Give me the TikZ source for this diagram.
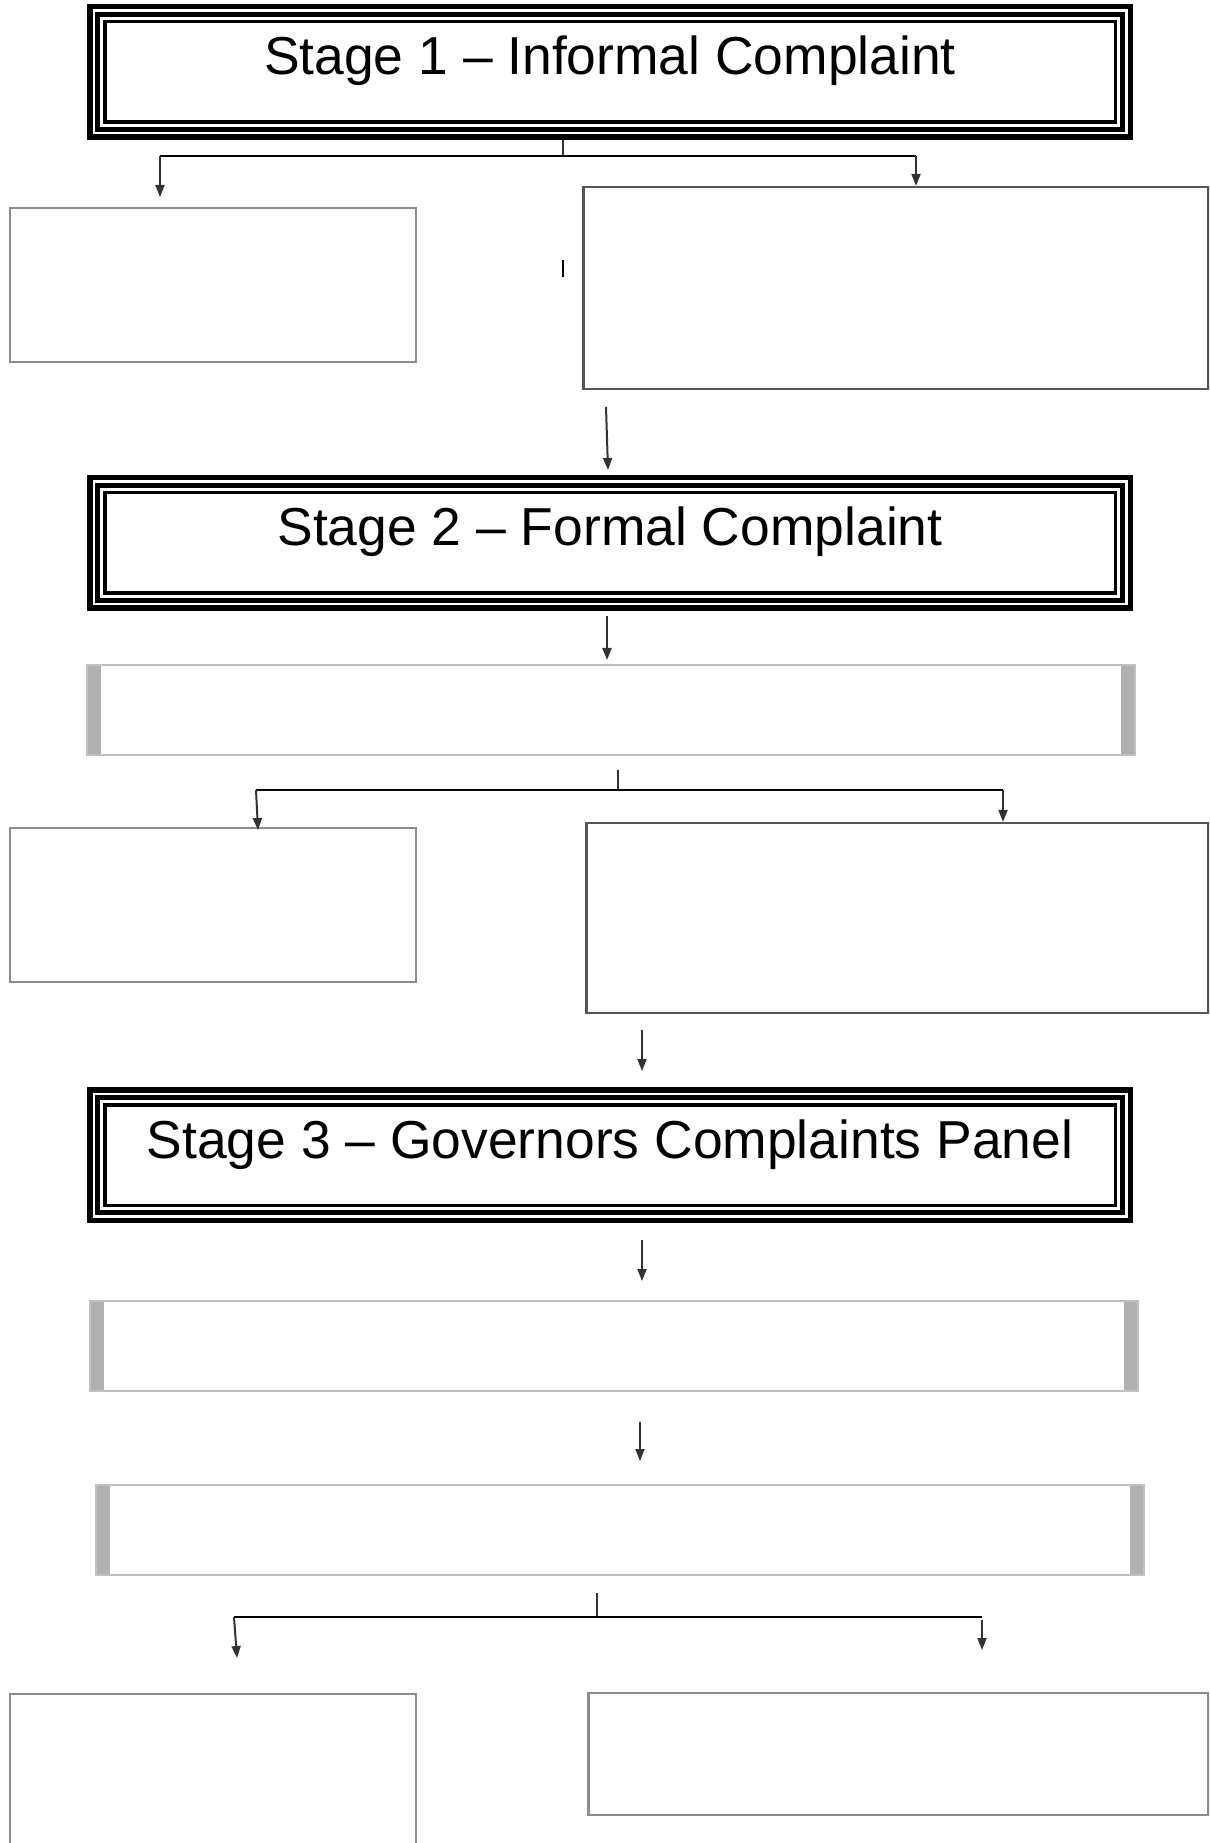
\documentclass[tikz,border=0pt]{standalone}
\usepackage{fontspec}
\setmainfont{Liberation Sans}
\usetikzlibrary{arrows.meta}
\definecolor{frm}{RGB}{140, 140, 140}
\definecolor{drk}{RGB}{85, 85, 85}
\definecolor{shd}{RGB}{176, 176, 176}
\definecolor{rim}{RGB}{192, 192, 192}
\definecolor{lnk}{RGB}{50, 50, 50}
\tikzset{
    stagebox/.style={draw=black, line width=0.055cm, inner sep=0pt,
        minimum width=10.405cm, minimum height=1.305cm,
        font=\fontsize{15.2}{18}\selectfont, text height=0.39cm, text depth=0.33cm,
        path picture={
            \draw[line width=0.05cm] ([shift={(0.08,-0.08)}]path picture bounding box.north west)
                rectangle ([shift={(-0.08,0.08)}]path picture bounding box.south east);
            \draw[line width=0.035cm] ([shift={(0.15,-0.15)}]path picture bounding box.north west)
                rectangle ([shift={(-0.15,0.15)}]path picture bounding box.south east);
        }},
    greybox/.style={draw=rim, line width=0.02cm, inner sep=0pt,
        minimum width=10.48cm, minimum height=0.90cm,
        path picture={
            \fill[shd] (path picture bounding box.north west)
                rectangle ([xshift=0.14cm]path picture bounding box.south west);
            \fill[shd] ([xshift=-0.14cm]path picture bounding box.north east)
                rectangle (path picture bounding box.south east);
        }},
    plainbox/.style={draw=frm, line width=0.02cm, inner sep=0pt},
    darkbox/.style={draw=drk, line width=0.022cm, inner sep=0pt},
    tie/.style={draw=black, line width=0.025cm},
    link/.style={draw=lnk, line width=0.02cm},
    flow/.style={link, -{Triangle[length=0.12cm, width=0.09cm]}}
}

\begin{document}
\begin{tikzpicture}
        \useasboundingbox (0, 0) rectangle (12.09, -18.43);
        \clip (0, 0) rectangle (12.09, -18.43);

        \node[stagebox] (s1) at (6.10, -0.72) {Stage 1 – Informal Complaint};
        \node[plainbox, minimum width=4.06cm, minimum height=1.54cm] (a1) at (2.13, -2.85) {};
        \node[darkbox, minimum width=6.25cm, minimum height=2.02cm] (b1) at (8.96, -2.88) {};
        \node[stagebox] (s2) at (6.10, -5.43) {Stage 2 – Formal Complaint};
        \node[greybox] (g1) at (6.105, -7.105) {};
        \node[plainbox, minimum width=4.06cm, minimum height=1.54cm] (a2) at (2.13, -9.05) {};
        \node[darkbox, minimum width=6.22cm, minimum height=1.90cm] (b2) at (8.975, -9.18) {};
        \node[stagebox] (s3) at (6.10, -11.55) {Stage 3 – Governors Complaints Panel};
        \node[greybox] (g2) at (6.14, -13.455) {};
        \node[greybox] (g3) at (6.195, -15.30) {};
        \node[plainbox, minimum width=4.06cm, minimum height=1.76cm] (a3) at (2.13, -17.82) {};
        \node[plainbox, line width=0.025cm, minimum width=6.20cm, minimum height=1.22cm] (b3) at (8.985, -17.54) {};

        % stage 1 split
        \coordinate (h1) at (5.63, -1.56);
        \coordinate (h1l) at (1.60, -1.56);
        \coordinate (h1r) at (9.16, -1.56);
        \coordinate (e1) at (1.60, -1.97);
        \draw[link] (s1.south -| h1) -- (h1);
        \draw[tie] (h1l) -- (h1r);
        \draw[flow] (h1l) -- (e1);
        \draw[flow] (h1r) -- (h1r |- b1.north);
        \draw[tie] (5.63, -2.60) -- (5.63, -2.77);

        \coordinate (u1) at (6.06, -4.07);
        \coordinate (v1) at (6.08, -4.70);
        \draw[flow] (u1) -- (v1);
        \coordinate (u2) at (6.07, -6.16);
        \coordinate (v2) at (6.07, -6.60);
        \draw[flow] (u2) -- (v2);

        % stage 2 split
        \coordinate (t2) at (6.18, -7.70);
        \coordinate (h2) at (6.18, -7.90);
        \coordinate (h2l) at (2.56, -7.90);
        \coordinate (h2r) at (10.03, -7.90);
        \coordinate (e2) at (2.58, -8.30);
        \draw[link] (t2) -- (h2);
        \draw[tie] (h2l) -- (h2r);
        \draw[flow] (h2l) -- (e2);
        \draw[flow] (h2r) -- (h2r |- b2.north);

        \coordinate (u3) at (6.42, -10.30);
        \coordinate (v3) at (6.42, -10.71);
        \draw[flow] (u3) -- (v3);
        \coordinate (u4) at (6.42, -12.40);
        \coordinate (v4) at (6.42, -12.81);
        \draw[flow] (u4) -- (v4);
        \coordinate (u5) at (6.40, -14.22);
        \coordinate (v5) at (6.40, -14.61);
        \draw[flow] (u5) -- (v5);

        % stage 3 split
        \coordinate (t3) at (5.97, -15.93);
        \coordinate (h3) at (5.97, -16.17);
        \coordinate (h3l) at (2.34, -16.17);
        \coordinate (h3r) at (9.82, -16.17);
        \coordinate (e3) at (2.37, -16.58);
        \coordinate (f3) at (9.82, -16.20);
        \coordinate (e4) at (9.82, -16.50);
        \draw[link] (t3) -- (h3);
        \draw[tie] (h3l) -- (h3r);
        \draw[flow] (h3l) -- (e3);
        \draw[flow] (f3) -- (e4);
    \end{tikzpicture}
\end{document}
